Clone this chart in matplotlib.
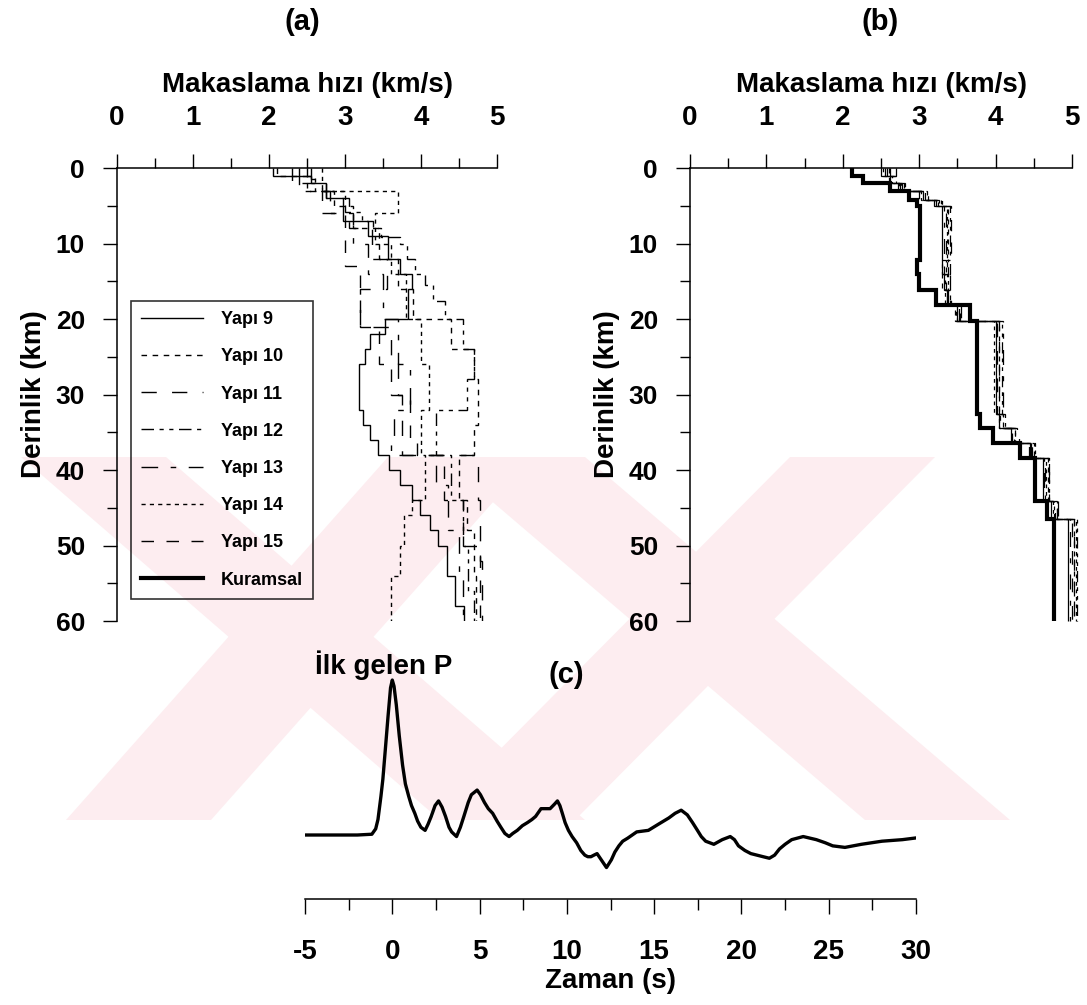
import matplotlib
matplotlib.use('Agg')
import matplotlib.pyplot as plt
from matplotlib.lines import Line2D
from matplotlib.patches import Polygon
from matplotlib.ticker import MultipleLocator

plt.rcParams['font.family'] = ['Liberation Sans', 'DejaVu Sans']
plt.rcParams['font.weight'] = 'bold'
plt.rcParams['axes.labelweight'] = 'bold'
plt.rcParams['axes.unicode_minus'] = False

# ---------------------------------------------------------------
# (a) ters çözüm yapıları: katman sınırları (km) ve hızlar (km/s)
# ---------------------------------------------------------------
edges9 = [0, 1, 2, 4, 7, 9, 12, 14, 16, 20, 22, 24, 26, 32, 34, 36, 38, 40, 42, 44, 46, 48, 50, 54, 58, 60]
vs9 = [2.05, 2.55, 2.75, 2.97, 3.30, 3.57, 3.72, 3.88, 3.83, 3.53, 3.33, 3.26, 3.18, 3.24, 3.33,
       3.44, 3.58, 3.72, 3.88, 3.99, 4.12, 4.23, 4.34, 4.45, 4.56]
edges10 = [0, 1, 3, 5, 8, 12, 16, 20, 24, 28, 34, 38, 44, 48, 54, 60]
vs10 = [2.1, 2.5, 2.85, 3.1, 3.45, 3.7, 3.9, 4.4, 4.7, 4.75, 4.7, 4.5, 4.6, 4.7, 4.72]
edges11 = [0, 1.5, 4, 8, 12, 16, 21, 25, 30, 38, 44, 52, 60]
vs11 = [2.55, 2.75, 3.05, 3.35, 3.55, 3.2, 3.6, 3.7, 3.75, 4.75, 4.78, 4.8]
edges12 = [0, 1, 3, 5.8, 7, 8, 9.1, 10.1, 12.1, 14.1, 15.5, 17.6, 20, 24, 28, 32, 38, 44, 50, 56, 60]
vs12 = [2.5, 2.6, 3.0, 3.22, 3.37, 3.47, 3.72, 3.81, 3.92, 4.05, 4.16, 4.32, 4.55, 4.7, 4.6,
        4.2, 4.4, 4.55, 4.62, 4.7]
edges13 = [0, 3, 6, 10, 14, 20, 26, 32, 36, 38, 42, 48, 54, 60]
vs13 = [2.4, 2.8, 3.1, 3.3, 3.5, 3.7, 3.85, 3.65, 3.6, 4.2, 4.35, 4.5, 4.55]
edges14 = [0, 3, 6, 10, 14, 20, 26, 32, 38, 44, 46, 50, 54, 60]
vs14 = [2.7, 3.7, 3.4, 3.6, 3.8, 4.0, 4.1, 4.0, 4.05, 3.88, 3.77, 3.72, 3.6]
edges15 = [0, 2, 6, 13, 21, 26, 30, 36, 38, 44, 50, 60]
vs15 = [2.3, 2.7, 3.0, 3.2, 3.45, 3.6, 3.85, 3.95, 4.3, 4.55, 4.78]

# ---------------------------------------------------------------
# (b) kuramsal model ve ona yakın çözümler (aynı katmanlar)
# ---------------------------------------------------------------
edges_b = [0, 1.1, 2, 3.1, 4.2, 5, 12.2, 14, 16.2, 18.2, 20.2, 32.6, 34.4, 36.4, 38.4, 44.1, 46.5, 60]
vs_kuramsal = [2.12, 2.26, 2.62, 2.87, 2.97, 3.01, 2.97, 3.0, 3.22, 3.66, 3.75, 3.79, 3.97, 4.32, 4.52, 4.67, 4.76]
vs9_b = [2.55, 2.62, 2.75, 3.05, 3.20, 3.30, 3.30, 3.32, 3.36, 3.50, 4.00, 4.05, 4.20, 4.45, 4.62, 4.72, 4.95]
vs10_b = [2.60, 2.70, 2.80, 3.10, 3.26, 3.38, 3.35, 3.30, 3.40, 3.47, 4.05, 4.10, 4.25, 4.50, 4.68, 4.80, 5.02]
vs11_b = [2.50, 2.65, 2.72, 3.00, 3.22, 3.35, 3.32, 3.36, 3.38, 3.55, 4.02, 4.08, 4.30, 4.42, 4.65, 4.78, 5.00]
vs12_b = [2.70, 2.60, 2.78, 3.08, 3.30, 3.40, 3.38, 3.34, 3.36, 3.48, 4.08, 4.12, 4.22, 4.48, 4.70, 4.75, 5.07]
vs13_b = [2.58, 2.68, 2.76, 3.12, 3.24, 3.32, 3.36, 3.40, 3.42, 3.52, 4.10, 4.06, 4.28, 4.46, 4.64, 4.82, 4.98]
vs14_b = [2.52, 2.64, 2.74, 3.02, 3.28, 3.36, 3.30, 3.38, 3.34, 3.50, 3.98, 4.04, 4.26, 4.52, 4.66, 4.76, 5.05]
vs15_b = [2.62, 2.66, 2.82, 3.06, 3.25, 3.42, 3.40, 3.35, 3.40, 3.53, 4.04, 4.10, 4.24, 4.44, 4.70, 4.80, 5.03]

# ---------------------------------------------------------------
# (c) alıcı fonksiyonu (zaman, genlik)
# ---------------------------------------------------------------
t_rf = [-5.0, -2.0, -1.17, -0.95, -0.82, -0.65, -0.54, -0.4, -0.24, -0.1, 0.0, 0.1, 0.23, 0.4, 0.59,
        0.75, 0.94, 1.1, 1.29, 1.45, 1.64, 1.88, 2.05, 2.23, 2.45, 2.65, 2.85, 3.05, 3.25, 3.4,
        3.68, 3.9, 4.1, 4.35, 4.53, 4.86, 5.05, 5.28, 5.5, 5.75, 6.0, 6.22, 6.45, 6.69, 6.9,
        7.16, 7.45, 7.74, 8.0, 8.21, 8.52, 8.8, 9.04, 9.3, 9.46, 9.6, 9.74, 9.9, 10.09, 10.3,
        10.56, 10.8, 11.03, 11.2, 11.38, 11.55, 11.73, 11.97, 12.27, 12.55, 12.75, 12.98, 13.2, 13.49, 14.0,
        14.67, 15.25, 15.84, 16.2, 16.55, 16.9, 17.2, 17.48, 17.7, 17.95, 18.42, 18.9, 19.36, 19.6, 19.83,
        20.2, 20.54, 21.24, 21.6, 21.9, 22.18, 22.5, 22.88, 23.54, 24.29, 24.8, 25.23, 25.93, 26.87, 28.05,
        29.22, 29.92]
amp_rf = [0.0, 0.0, 0.005, 0.04, 0.10, 0.25, 0.36, 0.55, 0.77, 0.95, 1.0, 0.96, 0.84, 0.64, 0.45,
          0.33, 0.25, 0.19, 0.14, 0.09, 0.05, 0.03, 0.07, 0.12, 0.19, 0.22, 0.18, 0.12, 0.05, 0.02,
          -0.01, 0.05, 0.12, 0.21, 0.26, 0.29, 0.26, 0.21, 0.17, 0.14, 0.09, 0.05, 0.01, -0.01, 0.01,
          0.03, 0.06, 0.08, 0.10, 0.12, 0.17, 0.17, 0.17, 0.20, 0.22, 0.19, 0.14, 0.08, 0.03, -0.01,
          -0.05, -0.10, -0.13, -0.14, -0.14, -0.13, -0.12, -0.16, -0.21, -0.16, -0.11, -0.07, -0.04, -0.02, 0.02,
          0.03, 0.07, 0.11, 0.14, 0.16, 0.13, 0.08, 0.03, -0.01, -0.04, -0.06, -0.03, -0.01, -0.03, -0.07,
          -0.10, -0.12, -0.14, -0.15, -0.13, -0.09, -0.06, -0.03, -0.01, -0.03, -0.05, -0.07, -0.08, -0.06, -0.04,
          -0.03, -0.02]

labels = ['Yapı 9', 'Yapı 10', 'Yapı 11', 'Yapı 12', 'Yapı 13', 'Yapı 14', 'Yapı 15']
styles = ['-', (0, (4, 4)), (0, (11, 11)), (0, (9, 4, 3, 4, 3, 4)), (0, (12, 9, 4, 9)),
          (0, (3, 3)), (0, (9, 9))]

models_a = [(edges9, vs9), (edges10, vs10), (edges11, vs11), (edges12, vs12),
            (edges13, vs13), (edges14, vs14), (edges15, vs15)]
models_b = [vs9_b, vs10_b, vs11_b, vs12_b, vs13_b, vs14_b, vs15_b]

W, H = 1087, 1005
fig = plt.figure(figsize=(W / 100, H / 100), dpi=100)


def fpx(x, y):
    return (x / W, 1 - y / H)


# tez merkezi filigranı (soluk pembe X'ler)
bands = [
    [(21, 457), (166, 457), (585, 820), (440, 820)],
    [(388, 457), (533, 457), (211, 820), (66, 820)],
    [(440, 457), (585, 457), (1010, 820), (865, 820)],
    [(790, 457), (935, 457), (575, 820), (430, 820)],
]
for b in bands:
    fig.patches.append(Polygon([fpx(*p) for p in b], closed=True, transform=fig.transFigure,
                               facecolor='#fdedf0', edgecolor='none', zorder=-5))


def depth_axes(rect):
    ax = fig.add_axes(rect)
    ax.set_facecolor('none')
    ax.set_xlim(0, 5)
    ax.set_ylim(60, 0)
    ax.spines['right'].set_visible(False)
    ax.spines['bottom'].set_visible(False)
    ax.spines['top'].set_linewidth(1.1)
    ax.spines['left'].set_linewidth(1.1)
    ax.xaxis.set_ticks_position('top')
    ax.xaxis.set_label_position('top')
    ax.set_xticks(range(6))
    ax.xaxis.set_minor_locator(MultipleLocator(0.5))
    ax.set_yticks(range(0, 61, 10))
    ax.yaxis.set_minor_locator(MultipleLocator(5))
    ax.tick_params(axis='x', which='major', direction='out', length=10, width=1, pad=17, labelsize=20)
    ax.tick_params(axis='x', which='minor', direction='out', length=7, width=1)
    ax.tick_params(axis='y', which='major', direction='out', length=10, width=1, pad=13, labelsize=19)
    ax.tick_params(axis='y', which='minor', direction='out', length=7, width=1)
    ax.set_xlabel('Makaslama hızı (km/s)', fontsize=20, labelpad=9)
    ax.set_ylabel('Derinlik (km)', fontsize=20, labelpad=6)
    return ax


# (a) =========================================================
ax1 = depth_axes([117 / W, 1 - 621 / H, 380 / W, 453 / H])
for (ed, vs), ls in zip(models_a, styles):
    ax1.stairs(vs, ed, orientation='horizontal', baseline=None, fill=False,
               color='black', linewidth=1.0, linestyle=ls)

handles = [Line2D([], [], color='black', linewidth=1.0, linestyle=ls) for ls in styles]
handles.append(Line2D([], [], color='black', linewidth=3.0))
leg = ax1.legend(handles, labels + ['Kuramsal'], loc='upper left',
                 bbox_to_anchor=(0.038, 0.706), frameon=True, fancybox=False,
                 edgecolor='black', facecolor='none', framealpha=None,
                 prop={'size': 13, 'weight': 'bold'}, handlelength=3.4, handletextpad=1.0,
                 labelspacing=1.12, borderpad=0.55, borderaxespad=0)
leg.get_frame().set_linewidth(1.2)

# (b) =========================================================
ax2 = depth_axes([690 / W, 1 - 621 / H, 382 / W, 453 / H])
for vs, ls in zip(models_b, styles):
    ax2.stairs(vs, edges_b, orientation='horizontal', baseline=None, fill=False,
               color='black', linewidth=0.9, linestyle=ls, clip_on=False)
ax2.stairs(vs_kuramsal, edges_b, orientation='horizontal', baseline=None, fill=False,
           color='black', linewidth=3.0, clip_on=False)

fig.text(*fpx(302, 22), '(a)', fontsize=21, ha='center', va='center')
fig.text(*fpx(880, 22), '(b)', fontsize=21, ha='center', va='center')

# (c) =========================================================
ax3 = fig.add_axes([305 / W, 1 - 899 / H, 611 / W, 227 / H])
ax3.set_facecolor('none')
ax3.plot(t_rf, amp_rf, color='black', linewidth=2.4, solid_joinstyle='round')
ax3.set_xlim(-5, 30)
ax3.set_ylim(-0.413, 1.052)
for s in ['left', 'right', 'top']:
    ax3.spines[s].set_visible(False)
ax3.spines['bottom'].set_linewidth(1.1)
ax3.set_yticks([])
ax3.set_xticks(range(-5, 31, 5))
ax3.xaxis.set_minor_locator(MultipleLocator(2.5))
ax3.tick_params(axis='x', which='major', direction='out', length=11, width=1, pad=18, labelsize=20)
ax3.tick_params(axis='x', which='minor', direction='out', length=8, width=1)
ax3.set_xlabel('Zaman (s)', fontsize=20, labelpad=2)

fig.text(*fpx(384, 665), 'İlk gelen P', fontsize=20, ha='center', va='center')
fig.text(*fpx(566, 675), '(c)', fontsize=21, ha='center', va='center')

fig.savefig('out.png', dpi=100)
